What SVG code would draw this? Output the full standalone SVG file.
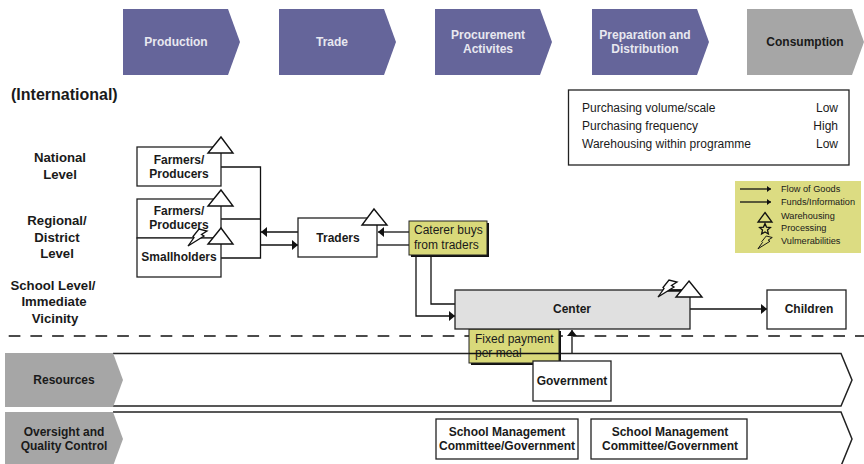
<svg xmlns="http://www.w3.org/2000/svg" width="864" height="464" viewBox="0 0 864 464">
<defs>
<style>
text{font-family:"Liberation Sans",Arial,sans-serif;fill:#1a1a1a}
.b{font-weight:700;font-size:12px;text-anchor:middle}
.l{font-weight:700;font-size:13.2px;text-anchor:middle}
.w{font-weight:700;font-size:12px;text-anchor:middle;fill:#e8e8f0}
.n{font-size:12px}
.r{font-size:12px;text-anchor:end}
.box{fill:#fff;stroke:#222;stroke-width:1.3}
.line{fill:none;stroke:#111;stroke-width:1.3}
.tri{fill:#fff;stroke:#111;stroke-width:1.4}
.note{fill:#d9d97a;stroke:#222;stroke-width:1}
.shadow{fill:#111}
.stage{fill:#65659a}
.grey{fill:#a6a6a6}
.band{fill:#fff;stroke:#222;stroke-width:1.5}
.leg{font-size:9.2px}
.icon{fill:none;stroke:#111;stroke-width:1.3}
.bolt{fill:#fff;stroke:#111;stroke-width:1.300}
</style>
<marker id="ah" viewBox="0 0 6 10" refX="6" refY="5" markerWidth="6" markerHeight="10" markerUnits="userSpaceOnUse" orient="auto"><path d="M0 0L6 5L0 10Z" fill="#111"/></marker>
<marker id="ahs" viewBox="0 0 4 6" refX="4" refY="3" markerWidth="4" markerHeight="6" markerUnits="userSpaceOnUse" orient="auto"><path d="M0 0L4 3L0 6Z" fill="#111"/></marker>
<path id="bolt" d="M0 17L6 8.500L5 7.500L11 0L19 2L13.500 5.500L16 7Z"/>
</defs>
<g id="stage-production"><path class="stage" d="M123 9H228L240 42L228 75H123Z"/><text class="w" x="176" y="46">Production</text></g>
<g id="stage-trade"><path class="stage" d="M279 9H384L396 42L384 75H279Z"/><text class="w" x="332" y="46">Trade</text></g>
<g id="stage-procurement"><path class="stage" d="M435 9H540L552 42L540 75H435Z"/><text class="w" x="488" y="39">Procurement</text><text class="w" x="488" y="53">Activites</text></g>
<g id="stage-preparation"><path class="stage" d="M592 9H697L709 42L697 75H592Z"/><text class="w" x="645" y="39">Preparation and</text><text class="w" x="645" y="53">Distribution</text></g>
<g id="stage-consumption"><path class="grey" d="M747 9H852L864 42L852 75H747Z"/><text class="b" x="805" y="46">Consumption</text></g>
<text x="11" y="100" font-weight="700" font-size="16px">(International)</text>
<g id="level-national"><text class="l" x="60" y="162">National</text><text class="l" x="60" y="179">Level</text></g>
<g id="level-regional"><text class="l" x="57" y="225">Regional/</text><text class="l" x="57" y="242">District</text><text class="l" x="57" y="258">Level</text></g>
<g id="level-school"><text class="l" x="53" y="290">School Level/</text><text class="l" x="54" y="306">Immediate</text><text class="l" x="55" y="323">Vicinity</text></g>
<g id="info"><rect x="568.500" y="90" width="280.500" height="75" class="box"/>
<text class="n" x="582" y="112">Purchasing volume/scale</text><text class="n" x="582" y="130">Purchasing frequency</text><text class="n" x="582" y="148">Warehousing within programme</text>
<text class="r" x="838" y="112">Low</text><text class="r" x="838" y="130">High</text><text class="r" x="838" y="148">Low</text></g>
<g id="legend"><rect x="735" y="181" width="126" height="72" fill="#dcdc82"/>
<path d="M740 189H771" class="line" marker-end="url(#ahs)"/><path d="M740 202H771" class="line" marker-end="url(#ahs)"/>
<path d="M765 212.500L772 222H758Z" class="icon"/>
<path d="M765 223.500l1.500 3.600 3.900.4-2.900 2.600.9 3.900-3.400-2-3.400 2 .9-3.900-2.900-2.600 3.900-.4Z" class="icon"/>
<use href="#bolt" transform="translate(758 236) scale(.75)" class="icon"/>
<text class="leg" x="781" y="192">Flow of Goods</text><text class="leg" x="781" y="204.500">Funds/Information</text><text class="leg" x="781" y="219">Warehousing</text><text class="leg" x="781" y="231">Processing</text><text class="leg" x="781" y="244">Vulmerabilities</text></g>
<g id="connectors">
<path d="M221 167H260.500V258H221" class="line"/><path d="M221 219H260.500" class="line"/>
<path d="M298 232H261" class="line" marker-end="url(#ah)"/><path d="M261 245H298" class="line" marker-end="url(#ah)"/>
<path d="M409 232H378" class="line" marker-end="url(#ah)"/><path d="M409 245H377" class="line"/>
<path d="M416 255V316H455" class="line" marker-end="url(#ah)"/><path d="M431 255V304H455" class="line"/>
<path d="M690 309H767" class="line" marker-end="url(#ah)"/>
<path d="M572 361V330" class="line" marker-end="url(#ah)"/>
<path d="M-13 336H864" fill="none" stroke="#111" stroke-width="1.300" stroke-dasharray="11.700 10"/>
</g>
<g id="farmers-national"><rect x="137" y="147" width="84" height="39" class="box"/><text class="b" x="179" y="164">Farmers/</text><text class="b" x="179" y="178">Producers</text><path d="M221 137L233 153H208Z" class="tri"/></g>
<g id="farmers-regional"><rect x="137" y="199" width="84" height="39" class="box"/><text class="b" x="179" y="215">Farmers/</text><text class="b" x="179" y="229">Producers</text><path d="M221 190L233 206H208Z" class="tri"/></g>
<g id="smallholders"><rect x="137" y="238" width="84" height="39" class="box"/><text class="b" x="179" y="261">Smallholders</text><path d="M221 228L233 244H208Z" class="tri"/><use href="#bolt" transform="translate(188 229)" class="bolt"/></g>
<g id="traders"><rect x="298" y="218" width="79" height="39" class="box"/><text class="b" x="338" y="242">Traders</text><path d="M374 209L387 225H362Z" class="tri"/></g>
<g id="caterer"><rect x="411" y="223" width="78" height="34" class="shadow"/><rect x="409" y="221" width="78" height="34" class="note"/><text class="n" x="414" y="234">Caterer buys</text><text class="n" x="414" y="249">from traders</text></g>
<g id="band-resources"><path d="M113 353.500H841L852 380L841 406H113" class="band"/><path class="grey" d="M5 353H113L123 380L113 407H5Z"/><text class="b" x="64" y="384">Resources</text></g>
<g id="band-oversight"><path d="M113 412H841L852 439L841 466H113" class="band"/><path class="grey" d="M5 412H113L123 439L113 466H5Z"/><text class="b" x="64" y="436">Oversight and</text><text class="b" x="64" y="450">Quality Control</text></g>
<g id="fixed"><rect x="471" y="331" width="90" height="34" class="shadow"/><rect x="469" y="329" width="90" height="34" class="note"/><text class="n" x="475" y="343">Fixed payment</text><text class="n" x="475" y="357">per meal</text><path d="M469 353.500H559" class="line"/></g>
<g id="center"><rect x="455" y="290" width="235" height="39" fill="#e0e0e0" stroke="#222" stroke-width="1.300"/><text class="b" x="572" y="313">Center</text><path d="M667 290.500H690" stroke="#111" stroke-width="2.500"/><path d="M689 281L702 297H676Z" class="tri"/><use href="#bolt" transform="translate(658 280)" class="bolt"/></g>
<g id="children"><rect x="767" y="290" width="79" height="39" class="box"/><text class="b" x="809" y="313">Children</text></g>
<g id="government"><rect x="533" y="361" width="78" height="40" class="box"/><text class="b" x="572" y="385">Government</text></g>
<g id="smc-1"><rect x="436" y="419" width="142" height="40" class="box"/><text class="b" x="507" y="436">School Management</text><text class="b" x="507" y="450">Committee/Government</text></g>
<g id="smc-2"><rect x="591" y="419" width="156" height="40" class="box"/><text class="b" x="670" y="436">School Management</text><text class="b" x="670" y="450">Committee/Government</text></g>
</svg>
